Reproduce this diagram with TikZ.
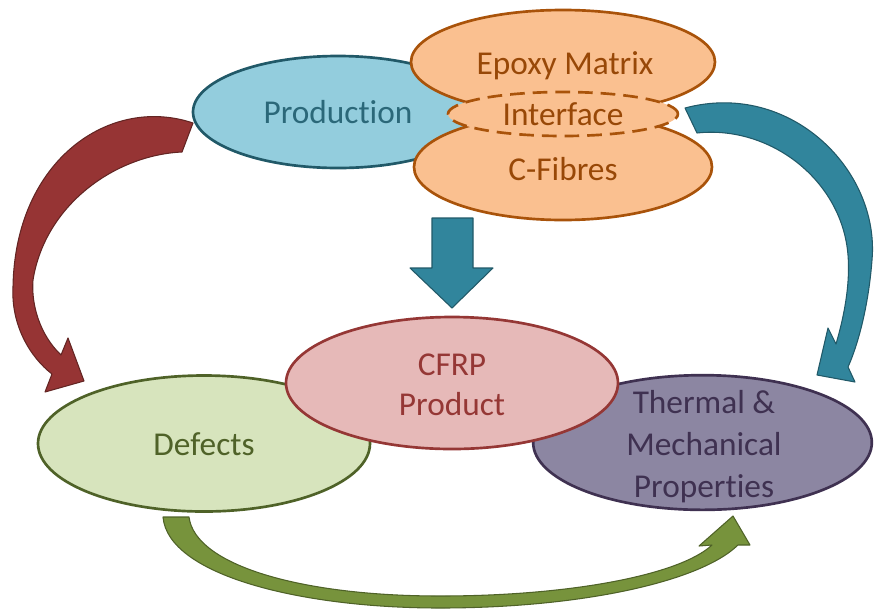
\documentclass[tikz,border=0pt]{standalone}
\usepackage{fontspec}
\setmainfont{Carlito}[Ligatures=NoCommon]
\usetikzlibrary{shapes.geometric}
\definecolor{prodFill}{HTML}{93CDDD}
\definecolor{prodLine}{HTML}{215968}
\definecolor{prodText}{HTML}{2B6879}
\definecolor{orFill}{HTML}{FAC090}
\definecolor{orLine}{HTML}{A9530A}
\definecolor{orText}{HTML}{984807}
\definecolor{cfFill}{HTML}{E6B9B8}
\definecolor{cfLine}{HTML}{953735}
\definecolor{cfText}{HTML}{953735}
\definecolor{defFill}{HTML}{D7E4BD}
\definecolor{defLine}{HTML}{4F6228}
\definecolor{defText}{HTML}{4F6228}
\definecolor{thFill}{HTML}{8C86A2}
\definecolor{thLine}{HTML}{3F3151}
\definecolor{thText}{HTML}{3F3151}
\definecolor{tealFill}{HTML}{31859C}
\definecolor{tealLine}{HTML}{215968}
\definecolor{redFill}{HTML}{963434}
\definecolor{redLine}{HTML}{632523}
\definecolor{grnFill}{HTML}{77933C}
\definecolor{grnLine}{HTML}{4F6228}
\begin{document}
\begin{tikzpicture}[x=0.75pt,y=-0.75pt,
  ell/.style={ellipse, inner sep=0pt, line width=2pt},
  lbl/.style={anchor=base, inner sep=0pt, font=\fontsize{25}{30}\selectfont},
  fatarrow/.style={line width=0.8pt, line join=round}]
\useasboundingbox (0,0) rectangle (875,612);

% curved arrows (behind the ellipses)
\path[fatarrow, fill=redFill, draw=redLine]
  (193,123) .. controls (110,95) and (15,160) .. (13,287)
  .. controls (11,325) and (30,357) .. (52,374)
  -- (45,392) -- (84,381) -- (68,338) -- (61,355)
  .. controls (40,335) and (31,305) .. (33,280)
  .. controls (45,205) and (115,155) .. (182,152) -- cycle;

\path[fatarrow, fill=tealFill, draw=tealLine]
  (685,108) .. controls (790,80) and (880,170) .. (872,260)
  .. controls (869,300) and (860,340) .. (848,367)
  -- (855,382) -- (817,375) -- (828,328) -- (836,344)
  .. controls (846,310) and (850,280) .. (848,255)
  .. controls (842,180) and (770,125) .. (697,133) -- cycle;

\path[fatarrow, fill=grnFill, draw=grnLine]
  (163,517) .. controls (168,575) and (300,608) .. (440,608)
  .. controls (580,608) and (700,582) .. (738,545)
  -- (750,545) -- (733,516) -- (699,546) -- (712,545)
  .. controls (680,575) and (570,596) .. (440,596)
  .. controls (300,596) and (195,565) .. (189,517) -- cycle;

% down arrow
\path[fatarrow, fill=tealFill, draw=tealLine]
  (432,218) -- (473,218) -- (473,268) -- (493,268) -- (452,308) -- (410,268) -- (432,268) -- cycle;

% ellipses
\node[ell, fill=prodFill, draw=prodLine, minimum width=217.5pt, minimum height=84pt] (prod) at (338,112) {};
\node[ell, fill=orFill, draw=orLine, minimum width=228pt, minimum height=78pt] (epoxy) at (563,62) {};
\node[ell, fill=orFill, draw=orLine, minimum width=223.5pt, minimum height=79.5pt] (fibres) at (563,167) {};
\node[ell, fill=orFill, draw=orLine, dash pattern=on 11pt off 6pt, minimum width=172.5pt, minimum height=33pt] (iface) at (563,114) {};
\node[ell, fill=defFill, draw=defLine, minimum width=249pt, minimum height=102pt] (defects) at (204,443.5) {};
\node[ell, fill=thFill, draw=thLine, minimum width=254pt, minimum height=101pt] (thermal) at (702.5,442.5) {};
\node[ell, fill=cfFill, draw=cfLine, minimum width=249pt, minimum height=99pt] (cfrp) at (452,383) {};

% texts
\node[lbl, text=prodText] (tprod) at (338,123) {Production};
\node[lbl, text=orText] (tepoxy) at (565,74) {Epoxy Matrix};
\node[lbl, text=orText] (tiface) at (563,125) {Interface};
\node[lbl, text=orText] (tfibres) at (563,180) {C-Fibres};
\node[lbl, text=cfText] (tcfrp1) at (452,375) {CFRP};
\node[lbl, text=cfText] (tcfrp2) at (452,415) {Product};
\node[lbl, text=defText] (tdef) at (204,455) {Defects};
\node[lbl, text=thText] (tth1) at (704,413) {Thermal \&};
\node[lbl, text=thText] (tth2) at (704,455) {Mechanical};
\node[lbl, text=thText] (tth3) at (704,497) {Properties};
\end{tikzpicture}
\end{document}
